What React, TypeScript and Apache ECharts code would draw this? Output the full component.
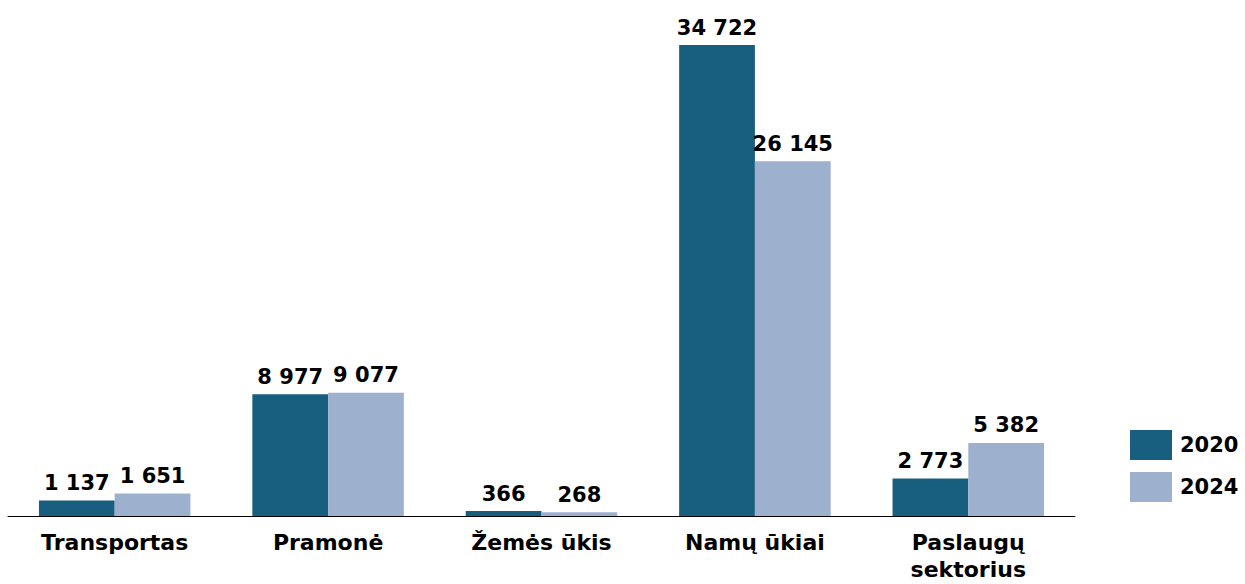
import React, { useEffect, useRef } from "react";
import * as echarts from "echarts";

const categories = ["Transportas", "Pramonė", "Žemės ūkis", "Namų ūkiai", "Paslaugų\nsektorius"];
const values2020 = [1137, 8977, 366, 34722, 2773];
const values2024 = [1651, 9077, 268, 26145, 5382];
const seriesNames = ["2020", "2024"];

const fmt = (n: number) => String(n).replace(/\B(?=(\d{3})+(?!\d))/g, " ");

export default function App() {
  const ref = useRef<HTMLDivElement>(null);
  useEffect(() => {
    document.body.style.margin = "0";
    const chart = echarts.init(ref.current!, null, { renderer: "svg" });
    const font = "'DejaVu Sans', sans-serif";
    const label = {
      show: true,
      position: "top" as const,
      distance: 7,
      color: "#000",
      fontFamily: font,
      fontWeight: "bold" as const,
      fontSize: 21,
      formatter: (p: any) => fmt(p.value),
    };
    chart.setOption({
      animation: false,
      backgroundColor: "#fff",
      grid: { left: 8, right: 170, top: 45, bottom: 68, outerBoundsMode: "none", containLabel: false },
      legend: {
        orient: "vertical",
        left: 1125,
        top: 425,
        itemWidth: 42,
        itemHeight: 30,
        itemGap: 12,
        icon: "rect",
        textStyle: { color: "#000", fontFamily: font, fontWeight: "bold", fontSize: 21, padding: [0, 0, 0, 3] },
        data: seriesNames,
      },
      xAxis: {
        type: "category",
        data: categories,
        axisLine: { lineStyle: { color: "#000", width: 1 } },
        axisTick: { show: false },
        axisLabel: {
          color: "#000",
          fontFamily: font,
          fontWeight: "bold",
          fontSize: 22,
          margin: 13,
          lineHeight: 27,
          interval: 0,
        },
      },
      yAxis: {
        type: "value",
        min: 0,
        max: 34722,
        show: false,
        splitLine: { show: false },
      },
      series: [
        {
          name: seriesNames[0],
          type: "bar",
          data: values2020,
          barGap: "0%",
          barCategoryGap: "29%",
          itemStyle: { color: "#175E7F" },
          label,
        },
        {
          name: seriesNames[1],
          type: "bar",
          data: values2024,
          barGap: "0%",
          barCategoryGap: "29%",
          itemStyle: { color: "#9DB1CF" },
          label,
        },
      ],
    });
    return () => chart.dispose();
  }, []);
  return <div ref={ref} style={{ position: "fixed", left: 0, top: 0, width: 1245, height: 584 }} />;
}
